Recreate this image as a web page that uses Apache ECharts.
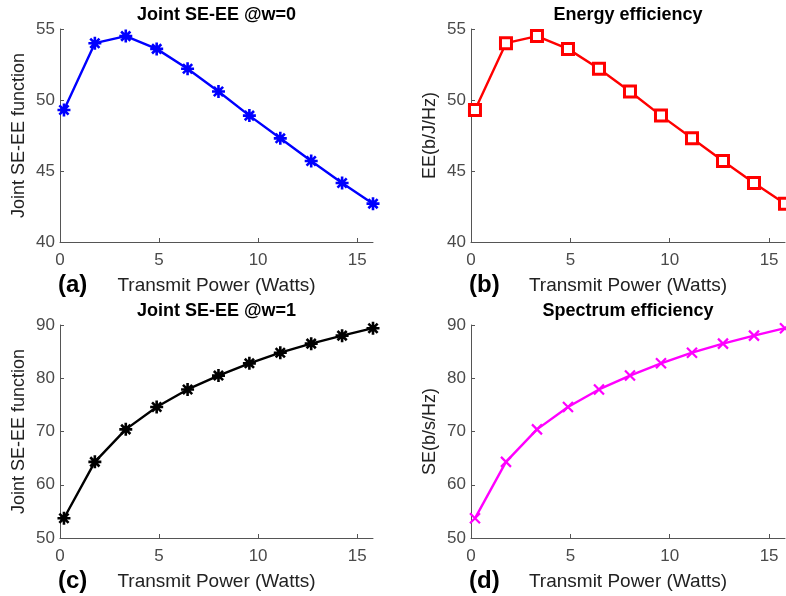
<!DOCTYPE html>
<html>
<head>
<meta charset="utf-8">
<script src="https://cdn.jsdelivr.net/npm/echarts@6/dist/echarts.min.js"></script>
<style>html,body{margin:0;padding:0;background:#fff}#c{width:786px;height:596px}</style>
</head>
<body>
<div id="c"></div>
<script>
// ---- data ----
const power = [0.2, 1.76, 3.32, 4.88, 6.44, 8.0, 9.56, 11.12, 12.68, 14.24, 15.8];
const jointW0 = [49.3, 54.0, 54.5, 53.6, 52.2, 50.6, 48.9, 47.3, 45.7, 44.15, 42.7];
const energyEff = [49.3, 54.0, 54.5, 53.6, 52.2, 50.6, 48.9, 47.3, 45.7, 44.15, 42.7];
const jointW1 = [53.7, 64.3, 70.4, 74.6, 77.9, 80.5, 82.8, 84.8, 86.5, 88.0, 89.4];
const spectrumEff = [53.7, 64.3, 70.4, 74.6, 77.9, 80.5, 82.8, 84.8, 86.5, 88.0, 89.4];
const xTicks = [0, 5, 10, 15];
const yTicksTop = [40, 45, 50, 55];
const yTicksBottom = [50, 60, 70, 80, 90];
const titles = ['Joint SE-EE @w=0', 'Energy efficiency', 'Joint SE-EE @w=1', 'Spectrum efficiency'];
const yNames = ['Joint SE-EE function', 'EE(b/J/Hz)', 'Joint SE-EE function', 'SE(b/s/Hz)'];
const xName = 'Transmit Power (Watts)';
const panelTags = ['(a)', '(b)', '(c)', '(d)'];

// ---- layout ----
const FONT = '"Liberation Sans", Arial, sans-serif';
const grids = [
  {left: 60, top: 29, width: 313, height: 213},
  {left: 471, top: 29, width: 314, height: 213},
  {left: 60, top: 325, width: 313, height: 213},
  {left: 471, top: 325, width: 314, height: 213}
];
const seriesData = [jointW0, energyEff, jointW1, spectrumEff];
const colors = ['#0000ff', '#ff0000', '#000000', '#ff00ff'];
const starPath = 'path://M10,0L10,20M0,10L20,10M2.9,2.9L17.1,17.1M2.9,17.1L17.1,2.9';
const xPath = 'path://M0,0L20,20M0,20L20,0';
const symbols = [
  {symbol: starPath, size: 13, itemStyle: {color: 'none', borderColor: colors[0], borderWidth: 2.6}},
  {symbol: 'rect', size: 11, itemStyle: {color: '#ffffff', borderColor: colors[1], borderWidth: 3}},
  {symbol: starPath, size: 13, itemStyle: {color: 'none', borderColor: colors[2], borderWidth: 2.6}},
  {symbol: xPath, size: 10, itemStyle: {color: 'none', borderColor: colors[3], borderWidth: 2.2}}
];
const yRanges = [
  {min: 40, max: 55, interval: 5, ticks: yTicksTop},
  {min: 40, max: 55, interval: 5, ticks: yTicksTop},
  {min: 50, max: 90, interval: 10, ticks: yTicksBottom},
  {min: 50, max: 90, interval: 10, ticks: yTicksBottom}
];

const axisCommon = {
  axisLine: {show: true, onZero: false, lineStyle: {color: '#555555', width: 1}},
  axisTick: {show: true, inside: true, length: 4, lineStyle: {color: '#555555'}},
  splitLine: {show: false},
  axisLabel: {color: '#4a4a4a', fontSize: 17, fontFamily: FONT},
  nameTextStyle: {color: '#222222', fontSize: 18, fontFamily: FONT}
};

const option = {
  animation: false,
  backgroundColor: '#ffffff',
  grid: grids.map(g => Object.assign({containLabel: false, outerBoundsMode: 'none'}, g)),
  xAxis: grids.map((g, i) => ({
    type: 'value', gridIndex: i, min: 0, max: 15.8, interval: 5,
    name: xName, nameLocation: 'middle', nameGap: 34,
    axisLine: axisCommon.axisLine,
    axisTick: Object.assign({}, axisCommon.axisTick, {customValues: xTicks}),
    axisLabel: Object.assign({}, axisCommon.axisLabel, {margin: 10, customValues: xTicks}),
    splitLine: axisCommon.splitLine,
    nameTextStyle: Object.assign({}, axisCommon.nameTextStyle, {fontSize: 19})
  })),
  yAxis: grids.map((g, i) => ({
    type: 'value', gridIndex: i, min: yRanges[i].min, max: yRanges[i].max, interval: yRanges[i].interval,
    name: yNames[i], nameLocation: 'middle', nameGap: 32, nameRotate: 90,
    axisLine: axisCommon.axisLine,
    axisTick: Object.assign({}, axisCommon.axisTick, {customValues: yRanges[i].ticks}),
    axisLabel: Object.assign({}, axisCommon.axisLabel, {margin: 5, customValues: yRanges[i].ticks}),
    splitLine: axisCommon.splitLine,
    nameTextStyle: axisCommon.nameTextStyle
  })),
  series: seriesData.map((d, i) => ({
    type: 'line', xAxisIndex: i, yAxisIndex: i,
    data: power.map((p, k) => [p, d[k]]),
    symbol: symbols[i].symbol, symbolSize: symbols[i].size,
    showAllSymbol: true,
    itemStyle: symbols[i].itemStyle,
    lineStyle: {color: colors[i], width: 2.4},
    clip: false
  })),
  graphic: [].concat(
    grids.map((g, i) => ({
      type: 'text', x: g.left + g.width / 2, y: g.top - 14,
      style: {text: titles[i], fill: '#000', font: 'bold 18px ' + FONT, align: 'center', verticalAlign: 'middle'}
    })),
    grids.map((g, i) => ({
      type: 'text', x: g.left - 2, y: g.top + g.height + 43,
      style: {text: panelTags[i], fill: '#000', font: 'bold 24px ' + FONT, align: 'left', verticalAlign: 'middle'}
    }))
  )
};

const chart = echarts.init(document.getElementById('c'), null, {renderer: 'canvas'});
chart.setOption(option);
</script>
</body>
</html>
